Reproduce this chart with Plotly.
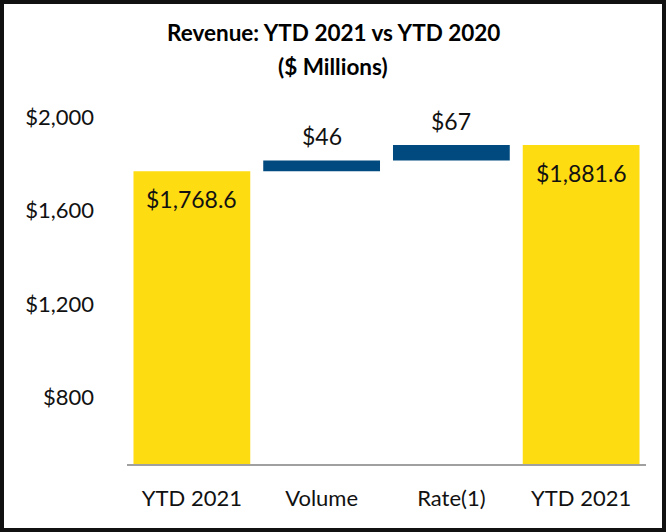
import plotly.graph_objects as go

categories = ["YTD 2021 ", "Volume", "Rate(1)", "YTD 2021"]
tick_labels = ["YTD 2021", "Volume", "Rate(1)", "YTD 2021"]
start_total = 1768.6
volume_change = 46.0
rate_change = 67.0
end_total = 1881.6
y_ticks = [800, 1200, 1600, 2000]
y_tick_labels = ["$800", "$1,200", "$1,600", "$2,000"]
title_line1 = "<b>Revenue: YTD 2021 vs YTD 2020</b>"
title_line2 = "<b>($ Millions)</b>"

YELLOW = "#FEDC12"
BLUE = "#014A7F"
FONT = "Lato, 'Open Sans', sans-serif"

W, H = 666, 532
ML, MR, MT, MB = 127, 20, 94, 68

fig = go.Figure()
fig.add_trace(go.Bar(
    x=[categories[0], categories[3]], y=[start_total, end_total],
    marker=dict(color=YELLOW, line=dict(width=0)), width=0.9, hoverinfo="skip"))
fig.add_trace(go.Bar(
    x=[categories[1], categories[2]], y=[volume_change, rate_change],
    base=[start_total, start_total + volume_change],
    marker=dict(color=BLUE, line=dict(width=0)), width=0.9, hoverinfo="skip"))

ann_font = dict(family=FONT, size=23, color="#111111")
fig.add_annotation(x=categories[0], y=start_total, text=f"${start_total:,.1f}",
                   showarrow=False, yanchor="top", yshift=-12, font=ann_font)
fig.add_annotation(x=categories[3], y=end_total, text=f"${end_total:,.1f}",
                   showarrow=False, yanchor="top", yshift=-12, font=ann_font)
fig.add_annotation(x=categories[1], y=start_total + volume_change,
                   text=f"${volume_change:,.0f}", showarrow=False,
                   yanchor="bottom", yshift=9, font=ann_font)
fig.add_annotation(x=categories[2], y=start_total + volume_change + rate_change,
                   text=f"${rate_change:,.0f}", showarrow=False,
                   yanchor="bottom", yshift=8, font=ann_font)

pw = W - ML - MR
ph = H - MT - MB
# title centred on the whole figure
title_font = dict(family=FONT, size=22.5, color="#000000")
for txt, yc in [(title_line1, 33), (title_line2, 66)]:
    fig.add_annotation(xref="paper", yref="paper",
                       x=(W / 2 - ML) / pw, y=(H - MB - yc) / ph,
                       xanchor="center", yanchor="middle", showarrow=False,
                       text=txt, font=title_font)

fig.add_shape(type="rect", xref="paper", yref="paper",
              x0=-(ML - 2) / pw, x1=1 + (MR - 2) / pw,
              y0=-(MB - 2) / ph, y1=1 + (MT - 2) / ph,
              line=dict(color="#111111", width=4), fillcolor="rgba(0,0,0,0)",
              layer="above")

fig.update_layout(
    width=W, height=H,
    margin=dict(l=ML, r=MR, t=MT, b=MB),
    paper_bgcolor="white", plot_bgcolor="white",
    showlegend=False, barmode="overlay",
    font=dict(family=FONT, size=22, color="#111111"),
)
fig.update_xaxes(
    categoryorder="array", categoryarray=categories,
    tickmode="array", tickvals=categories, ticktext=tick_labels,
    showline=True, linecolor="#A0A0A0", linewidth=2, ticks="",
    showgrid=False, tickfont=dict(family=FONT, size=22, color="#111111"),
    ticklabelstandoff=14,
)
fig.update_yaxes(
    range=[513, 2100], tickvals=y_ticks, ticktext=y_tick_labels,
    showgrid=False, zeroline=False, showline=False, ticks="",
    tickfont=dict(family=FONT, size=22, color="#111111"),
    ticklabelstandoff=32,
)

fig.write_html("out.html")
